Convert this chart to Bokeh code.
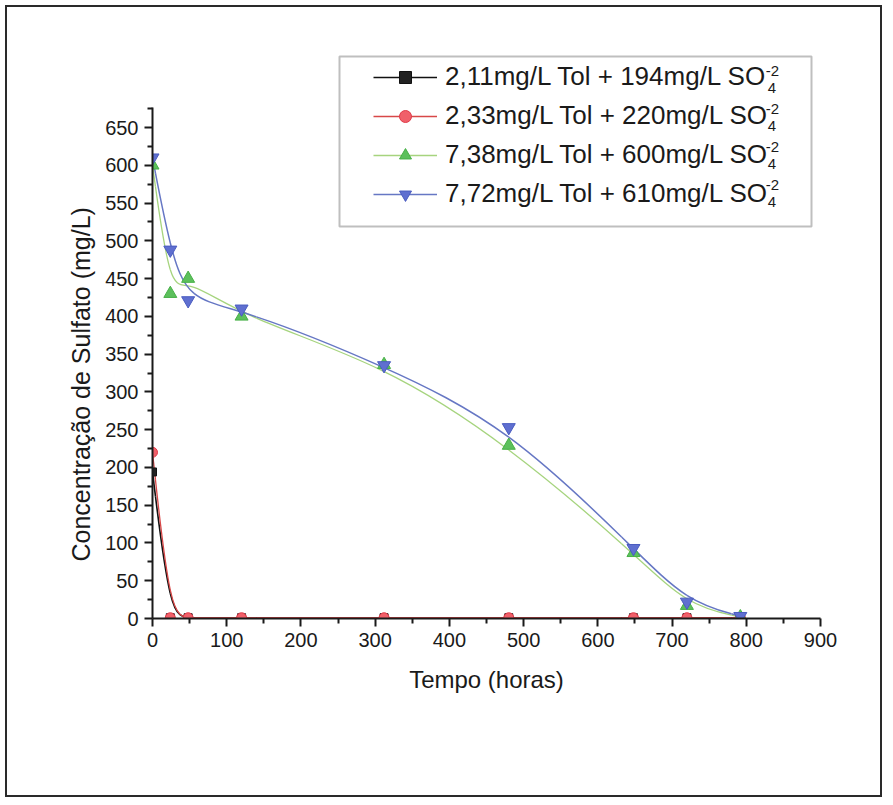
import numpy as np
from bokeh.plotting import figure
from bokeh.models import (Range1d, FixedTicker, Legend, LegendItem, Label,
                          BoxAnnotation, ColumnDataSource, Title)
from bokeh.embed import file_html
from bokeh.resources import INLINE

# ---- data ----
tempo = [0, 24, 48, 120, 312, 480, 648, 720, 792]
s_194 = [194, 1, 1, 1, 1, 1, 1, 1, 1]
s_220 = [220, 1, 1, 1, 1, 1, 1, 1, 1]
s_600 = [600, 430, 450, 400, 336, 229, 87, 17, 2]
s_610 = [610, 488, 421, 410, 335, 253, 93, 22, 3]
series_labels = ["2,11mg/L Tol + 194mg/L SO", "2,33mg/L Tol + 220mg/L SO",
                 "7,38mg/L Tol + 600mg/L SO", "7,72mg/L Tol + 610mg/L SO"]
sub_text = "4"
sup_text = "-2"
x_ticks = list(range(0, 901, 100))
y_ticks = list(range(0, 651, 50))
x_title = "Tempo (horas)"
y_title = "Concentração de Sulfato (mg/L)"

FONT = "Liberation Sans"
OFF = 7               # canvas origin inside the bordered host (page px)
BOX_OFF = 10          # offset used for canvas-unit annotation
PX_PER_UNIT = 491 / 650.0


def bspline_segments(xs, ys):
    """Clamped uniform cubic B-spline (data as control points) -> Bezier segments."""
    P = np.column_stack([xs, ys]).astype(float)
    Q = np.vstack([P[:1], P[:1], P, P[-1:], P[-1:]])
    out = dict(x0=[], y0=[], x1=[], y1=[], cx0=[], cy0=[], cx1=[], cy1=[])
    for i in range(1, len(Q) - 2):
        a, b, c, d = Q[i - 1], Q[i], Q[i + 1], Q[i + 2]
        b0 = (a + 4 * b + c) / 6
        b1 = (2 * b + c) / 3
        b2 = (b + 2 * c) / 3
        b3 = (b + 4 * c + d) / 6
        out["x0"].append(b0[0]); out["y0"].append(b0[1])
        out["cx0"].append(b1[0]); out["cy0"].append(b1[1])
        out["cx1"].append(b2[0]); out["cy1"].append(b2[1])
        out["x1"].append(b3[0]); out["y1"].append(b3[1])
    return ColumnDataSource(out)


# page-pixel layout
FRAME_L, FRAME_R, FRAME_T, FRAME_B = 152, 820, 47, 618
W, H = 877, 792
y_end = (FRAME_B - FRAME_T) / PX_PER_UNIT

p = figure(width=W, height=H, output_backend="svg", toolbar_location=None,
           x_range=Range1d(0, 900), y_range=Range1d(0, y_end),
           min_border_left=FRAME_L - OFF, min_border_right=W - (FRAME_R - OFF),
           min_border_top=FRAME_T - OFF, min_border_bottom=H - (FRAME_B - OFF))
p.styles = {"border": "2px solid #2a2a2a", "margin-left": "5px",
            "margin-top": "5px"}
p.outline_line_color = None
p.xgrid.visible = False
p.ygrid.visible = False
p.background_fill_color = "white"
p.border_fill_color = "white"

# axes
for ax in (p.xaxis[0], p.yaxis[0]):
    ax.axis_line_width = 2
    ax.axis_line_color = "#1a1a1a"
    ax.major_tick_line_width = 2
    ax.minor_tick_line_width = 2
    ax.major_tick_line_color = "#1a1a1a"
    ax.minor_tick_line_color = "#1a1a1a"
    ax.major_tick_in = 0
    ax.major_tick_out = 8
    ax.minor_tick_in = 0
    ax.minor_tick_out = 5
    ax.major_label_text_font = FONT
    ax.major_label_text_font_size = "20px"
    ax.major_label_text_color = "#1a1a1a"
    ax.axis_label_text_font = FONT
    ax.axis_label_text_font_size = "24px"
    ax.axis_label_text_font_style = "normal"
    ax.axis_label_text_color = "#1a1a1a"

p.xaxis.ticker = FixedTicker(ticks=x_ticks,
                             minor_ticks=[t + 50 for t in x_ticks[:-1]])
p.yaxis.ticker = FixedTicker(ticks=y_ticks,
                             minor_ticks=[t + 25 for t in y_ticks])
p.yaxis.bounds = (0, 677)
p.xaxis.major_label_standoff = 6
p.yaxis.major_label_standoff = 6
p.xaxis.axis_label = x_title
p.xaxis.axis_label_standoff = 16

# y title as a side title so it can be shifted along the axis
ytitle = Title(text=y_title, align="left", offset=57, standoff=16,
               text_font=FONT, text_font_size="25px", text_font_style="normal",
               text_color="#1a1a1a")
p.add_layout(ytitle, "left")

# series
specs = [
    (s_194, "#111111", 1.6, "square", 8, "#222222", "#111111"),
    (s_220, "#d84848", 1.3, "circle", 10, "#f0606a", "#e03a48"),
    (s_600, "#a6d47e", 1.3, "triangle", 13, "#5cc05c", "#47b047"),
    (s_610, "#6677c4", 1.5, "inverted_triangle", 13, "#5f6fd0", "#4a5cc0"),
]
line_r = []
mark_r = []
for vals, lc, lw, mk, ms, fc, mc in specs:
    lr = p.bezier(x0="x0", y0="y0", x1="x1", y1="y1", cx0="cx0", cy0="cy0",
                  cx1="cx1", cy1="cy1", source=bspline_segments(tempo, vals),
                  line_color=lc, line_width=lw)
    line_r.append(lr)
for vals, lc, lw, mk, ms, fc, mc in specs:
    mr = p.scatter(tempo, vals, marker=mk, size=ms, fill_color=fc, line_color=mc,
                   line_width=1)
    mark_r.append(mr)

# legend (box drawn separately)
items = [LegendItem(label=lab, renderers=[l, m])
         for lab, l, m in zip(series_labels, line_r, mark_r)]
leg_left, leg_top = 373, 65
row_h, spacing = 30, 8
leg_h = 4 * row_h + 3 * spacing
LEG_FS = 26
legend = Legend(items=items, location=(leg_left - FRAME_L, FRAME_B - (leg_top + leg_h)),
                padding=0, margin=0, spacing=spacing,
                glyph_width=64, glyph_height=row_h, label_height=row_h,
                label_standoff=8, border_line_alpha=0, background_fill_alpha=0,
                label_text_font=FONT, label_text_font_size=f"{LEG_FS}px",
                label_text_color="#1a1a1a")
p.add_layout(legend)

# sub/superscripts after each legend label
em = {"0": .556, "1": .556, "2": .556, "3": .556, "4": .556, "5": .556, "6": .556,
      "7": .556, "8": .556, "9": .556, ",": .278, "m": .833, "g": .556, "/": .278,
      "L": .556, " ": .278, "T": .611, "o": .556, "l": .222, "+": .584, "S": .667,
      "O": .778}
text_x0 = leg_left + 64 + 8
for k, lab in enumerate(series_labels):
    w = sum(em.get(ch, .556) for ch in lab) * LEG_FS * 0.975
    xe = text_x0 + w
    yc = leg_top + row_h / 2 + k * (row_h + spacing)
    p.add_layout(Label(x=xe + 3 - FRAME_L, y=FRAME_B - (yc + 7), x_units="screen",
                       y_units="screen", text=sub_text, text_font=FONT,
                       text_font_size="15px", text_color="#1a1a1a",
                       text_baseline="middle", text_align="left"))
    p.add_layout(Label(x=xe + 1 - FRAME_L, y=FRAME_B - (yc - 10), x_units="screen",
                       y_units="screen", text=sup_text, text_font=FONT,
                       text_font_size="15px", text_color="#1a1a1a",
                       text_baseline="middle", text_align="left"))

# legend box
p.add_layout(BoxAnnotation(left=340 - BOX_OFF, right=812 - BOX_OFF,
                           top=57 - BOX_OFF, bottom=227 - BOX_OFF,
                           left_units="canvas", right_units="canvas",
                           top_units="canvas", bottom_units="canvas",
                           fill_alpha=0, line_color="#2a2a2a", line_width=2))

open("out.html", "w").write(file_html(p, INLINE))
